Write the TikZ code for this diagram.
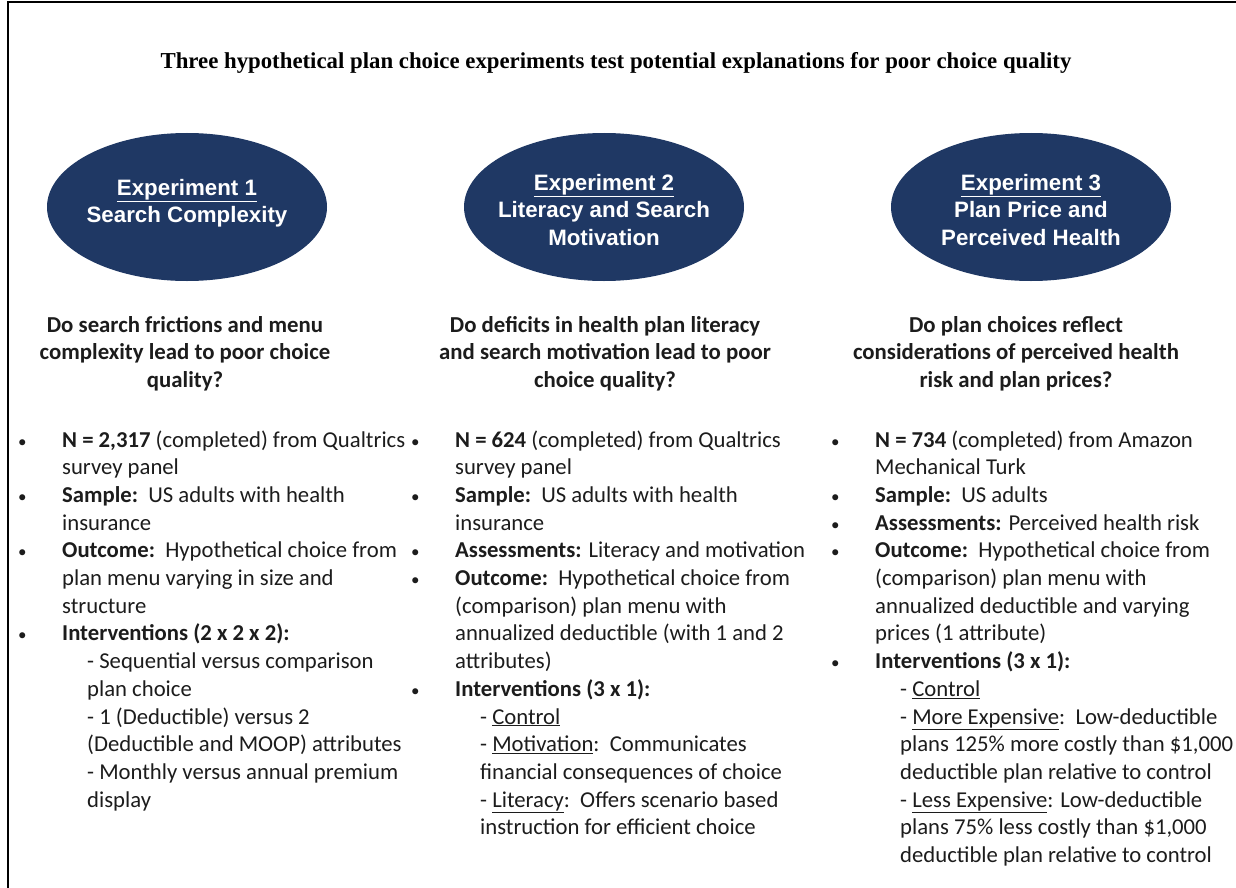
\documentclass[tikz,border=0pt]{standalone}
\usepackage{fontspec}
\setmainfont{Carlito}
\newfontfamily\arialf{Liberation Sans}
\newfontfamily\timesf{Liberation Serif}
\usetikzlibrary{shapes.geometric}
\definecolor{navy}{RGB}{31,56,100}
\definecolor{ink}{RGB}{28,28,28}
\newcommand{\sub}{\hspace*{25pt}}
\newcommand{\bu}{{\fontsize{17}{17}\selectfont\textbullet}}
\tikzset{
  expell/.style={ellipse, fill=navy, draw=none, minimum width=280pt, minimum height=148pt,
    inner sep=0pt},
  etext/.style={inner sep=0pt, text=white, align=center,
    font=\arialf\bfseries\fontsize{22.3}{27.5}\selectfont},
  question/.style={anchor=base, align=center, inner sep=0pt, text=ink,
    font=\bfseries\fontsize{22.8}{27.5}\selectfont},
  blist/.style={anchor=base west, inner sep=0pt, text=ink,
    font=\fontsize{22.7}{27.7}\selectfont},
  frame/.style={line width=2.2pt, draw=black}
}
\begin{document}
\begin{tikzpicture}[x=1pt,y=-1pt]
\useasboundingbox (0,0) rectangle (1236,888);
\fill[white] (0,0) rectangle (1236,888);
\draw[frame] (8,890) -- (8,2) -- (1238,2);

\node[anchor=base, inner sep=0pt, font=\timesf\bfseries\fontsize{22.8}{26}\selectfont] (title) at (616,69)
  {Three hypothetical plan choice experiments test potential explanations for poor choice quality};

\node[expell] (e1) at (187,207) {};
\node[expell] (e2) at (604,207) {};
\node[expell] (e3) at (1031,207) {};
\node[etext] (t1) at (187,203) {\underline{Experiment 1}\\Search Complexity};
\node[etext] (t2) at (604,210) {\underline{Experiment 2}\\Literacy and Search\\Motivation};
\node[etext] (t3) at (1031,210) {\underline{Experiment 3}\\Plan Price and\\Perceived Health};

\node[question] (q1) at (185,387) {Do search frictions and menu\\complexity lead to poor choice\\quality?};
\node[question] (q2) at (605,387) {Do deficits in health plan literacy\\and search motivation lead to poor\\choice quality?};
\node[question] (q3) at (1016,387) {Do plan choices reflect\\considerations of perceived health\\risk and plan prices?};

\node[blist] (l1) at (18,447) {\begin{tabular}[t]{@{}p{44pt}@{}l@{}}
\bu & \textbf{N = 2,317} (completed) from Qualtrics\\
 & survey panel\\
\bu & \textbf{Sample:}\ \ US adults with health\\
 & insurance\\
\bu & \textbf{Outcome:}\ \ Hypothetical choice from\\
 & plan menu varying in size and\\
 & structure\\
\bu & \textbf{Interventions (2 x 2 x 2):}\\
 & \sub- Sequential versus comparison\\
 & \sub plan choice\\
 & \sub- 1 (Deductible) versus 2\\
 & \sub(Deductible and MOOP) attributes\\
 & \sub- Monthly versus annual premium\\
 & \sub display
\end{tabular}};

\node[blist] (l2) at (411,447) {\begin{tabular}[t]{@{}p{44pt}@{}l@{}}
\bu & \textbf{N = 624} (completed) from Qualtrics\\
 & survey panel\\
\bu & \textbf{Sample:}\ \ US adults with health\\
 & insurance\\
\bu & \textbf{Assessments:} Literacy and motivation\\
\bu & \textbf{Outcome:}\ \ Hypothetical choice from\\
 & (comparison) plan menu with\\
 & annualized deductible (with 1 and 2\\
 & attributes)\\
\bu & \textbf{Interventions (3 x 1):}\\
 & \sub- \underline{Control}\\
 & \sub- \underline{Motivation}:\ \ Communicates\\
 & \sub financial consequences of choice\\
 & \sub- \underline{Literacy}:\ \ Offers scenario based\\
 & \sub instruction for efficient choice
\end{tabular}};

\node[blist] (l3) at (831,447) {\begin{tabular}[t]{@{}p{44pt}@{}l@{}}
\bu & \textbf{N = 734} (completed) from Amazon\\
 & Mechanical Turk\\
\bu & \textbf{Sample:}\ \ US adults\\
\bu & \textbf{Assessments:} Perceived health risk\\
\bu & \textbf{Outcome:}\ \ Hypothetical choice from\\
 & (comparison) plan menu with\\
 & annualized deductible and varying\\
 & prices (1 attribute)\\
\bu & \textbf{Interventions (3 x 1):}\\
 & \sub- \underline{Control}\\
 & \sub- \underline{More Expensive}:\ \ Low-deductible\\
 & \sub plans 125\% more costly than \$1,000\\
 & \sub deductible plan relative to control\\
 & \sub- \underline{Less Expensive}: Low-deductible\\
 & \sub plans 75\% less costly than \$1,000\\
 & \sub deductible plan relative to control
\end{tabular}};
\end{tikzpicture}
\end{document}
